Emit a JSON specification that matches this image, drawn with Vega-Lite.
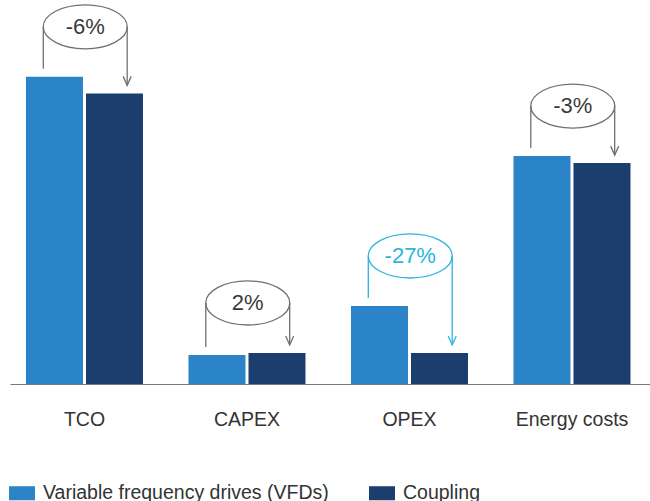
{
  "$schema": "https://vega.github.io/schema/vega-lite/v6.json",
  "width": 641,
  "height": 384,
  "padding": {"left": 9, "top": 0, "right": 0, "bottom": 0},
  "autosize": {"type": "pad"},
  "background": "white",
  "config": {"view": {"stroke": null}, "font": "Liberation Sans"},
  "datasets": {
    "bars": [
      {"cat": "TCO", "series": "Variable frequency drives (VFDs)", "value": 100},
      {"cat": "TCO", "series": "Coupling", "value": 94.6},
      {"cat": "CAPEX", "series": "Variable frequency drives (VFDs)", "value": 9.4},
      {"cat": "CAPEX", "series": "Coupling", "value": 10.1},
      {"cat": "OPEX", "series": "Variable frequency drives (VFDs)", "value": 25.4},
      {"cat": "OPEX", "series": "Coupling", "value": 10.1},
      {"cat": "Energy costs", "series": "Variable frequency drives (VFDs)", "value": 74.2},
      {"cat": "Energy costs", "series": "Coupling", "value": 71.9}
    ],
    "annotations": [
      {"cat": "TCO", "from": 100, "to": 94.6, "label": "-6%"},
      {"cat": "CAPEX", "from": 9.4, "to": 10.1, "label": "2%"},
      {"cat": "OPEX", "from": 25.4, "to": 10.1, "label": "-27%"},
      {"cat": "Energy costs", "from": 74.2, "to": 71.9, "label": "-3%"}
    ]
  },
  "layer": [
    {
      "data": {"name": "bars"},
      "mark": {"type": "bar"},
      "encoding": {
        "x": {
          "field": "cat", "type": "nominal",
          "sort": ["TCO", "CAPEX", "OPEX", "Energy costs"],
          "scale": {"type": "band", "paddingInner": 0.28, "paddingOuter": 0.1123, "align": 0.438, "round": false},
          "axis": {
            "title": null, "labelAngle": 0, "ticks": false, "tickSize": 0,
            "domain": true, "domainColor": "#7a7a7a", "domainWidth": 1.2,
            "labelFontSize": 19.5, "labelColor": "#333333", "labelPadding": 26,
            "grid": false
          }
        },
        "xOffset": {
          "field": "series", "type": "nominal",
          "sort": ["Variable frequency drives (VFDs)", "Coupling"],
          "scale": {"paddingInner": 0.05, "paddingOuter": 0}
        },
        "y": {
          "field": "value", "type": "quantitative",
          "scale": {"domain": [0, 125], "nice": false, "zero": true},
          "axis": null
        },
        "color": {
          "field": "series", "type": "nominal",
          "sort": ["Variable frequency drives (VFDs)", "Coupling"],
          "scale": {"domain": ["Variable frequency drives (VFDs)", "Coupling"], "range": ["#2b84c7", "#1b3e6f"]},
          "legend": {
            "title": null, "orient": "none", "direction": "horizontal",
            "legendX": -1, "legendY": 480,
            "symbolType": "M-1,-0.54L1,-0.54L1,0.54L-1,0.54Z",
            "symbolSize": 676, "symbolStrokeWidth": 0,
            "labelFontSize": 19.5, "labelColor": "#333333", "labelOffset": 8,
            "columnPadding": 40, "labelLimit": 400
          }
        }
      }
    },
    {
      "data": {"name": "annotations"},
      "transform": [{"calculate": "max(datum.from, datum.to)", "as": "top"}],
      "layer": [
        {
          "mark": {"type": "rule", "yOffset": -8, "y2Offset": -50, "strokeWidth": 1.3},
          "encoding": {
            "x": {"field": "cat", "type": "nominal", "sort": ["TCO", "CAPEX", "OPEX", "Energy costs"], "bandPosition": 0.148},
            "y": {"field": "from", "type": "quantitative", "axis": null},
            "y2": {"field": "top"},
            "color": {"condition": {"test": "datum.cat === 'OPEX'", "value": "#29b6dc"}, "value": "#707070"}
          }
        },
        {
          "mark": {"type": "rule", "yOffset": -50, "y2Offset": -8, "strokeWidth": 1.3},
          "encoding": {
            "x": {"field": "cat", "type": "nominal", "sort": ["TCO", "CAPEX", "OPEX", "Energy costs"], "bandPosition": 0.865},
            "y": {"field": "top", "type": "quantitative", "axis": null},
            "y2": {"field": "to"},
            "color": {"condition": {"test": "datum.cat === 'OPEX'", "value": "#29b6dc"}, "value": "#707070"}
          }
        },
        {
          "mark": {"type": "point", "shape": "M-0.8,-0.9L0,0.9L0.8,-0.9", "size": 100, "filled": false, "strokeWidth": 1.3, "yOffset": -12.5, "opacity": 1},
          "encoding": {
            "x": {"field": "cat", "type": "nominal", "sort": ["TCO", "CAPEX", "OPEX", "Energy costs"], "bandPosition": 0.865},
            "y": {"field": "to", "type": "quantitative", "axis": null},
            "color": {"condition": {"test": "datum.cat === 'OPEX'", "value": "#29b6dc"}, "value": "#707070"}
          }
        },
        {
          "mark": {"type": "point", "shape": "M-1,0C-1,-0.289,-0.5523,-0.524,0,-0.524C0.5523,-0.524,1,-0.289,1,0C1,0.289,0.5523,0.524,0,0.524C-0.5523,0.524,-1,0.289,-1,0Z", "size": 7056, "filled": false, "strokeWidth": 1.3, "yOffset": -50, "opacity": 1},
          "encoding": {
            "x": {"field": "cat", "type": "nominal", "sort": ["TCO", "CAPEX", "OPEX", "Energy costs"], "bandPosition": 0.5065},
            "y": {"field": "top", "type": "quantitative", "axis": null},
            "color": {"condition": {"test": "datum.cat === 'OPEX'", "value": "#29b6dc"}, "value": "#707070"}
          }
        },
        {
          "mark": {"type": "text", "fontSize": 22, "align": "center", "baseline": "middle", "yOffset": -50},
          "encoding": {
            "x": {"field": "cat", "type": "nominal", "sort": ["TCO", "CAPEX", "OPEX", "Energy costs"], "bandPosition": 0.5065},
            "y": {"field": "top", "type": "quantitative", "axis": null},
            "text": {"field": "label"},
            "color": {"condition": {"test": "datum.cat === 'OPEX'", "value": "#29b6dc"}, "value": "#3a3a3a"}
          }
        }
      ]
    }
  ]
}
